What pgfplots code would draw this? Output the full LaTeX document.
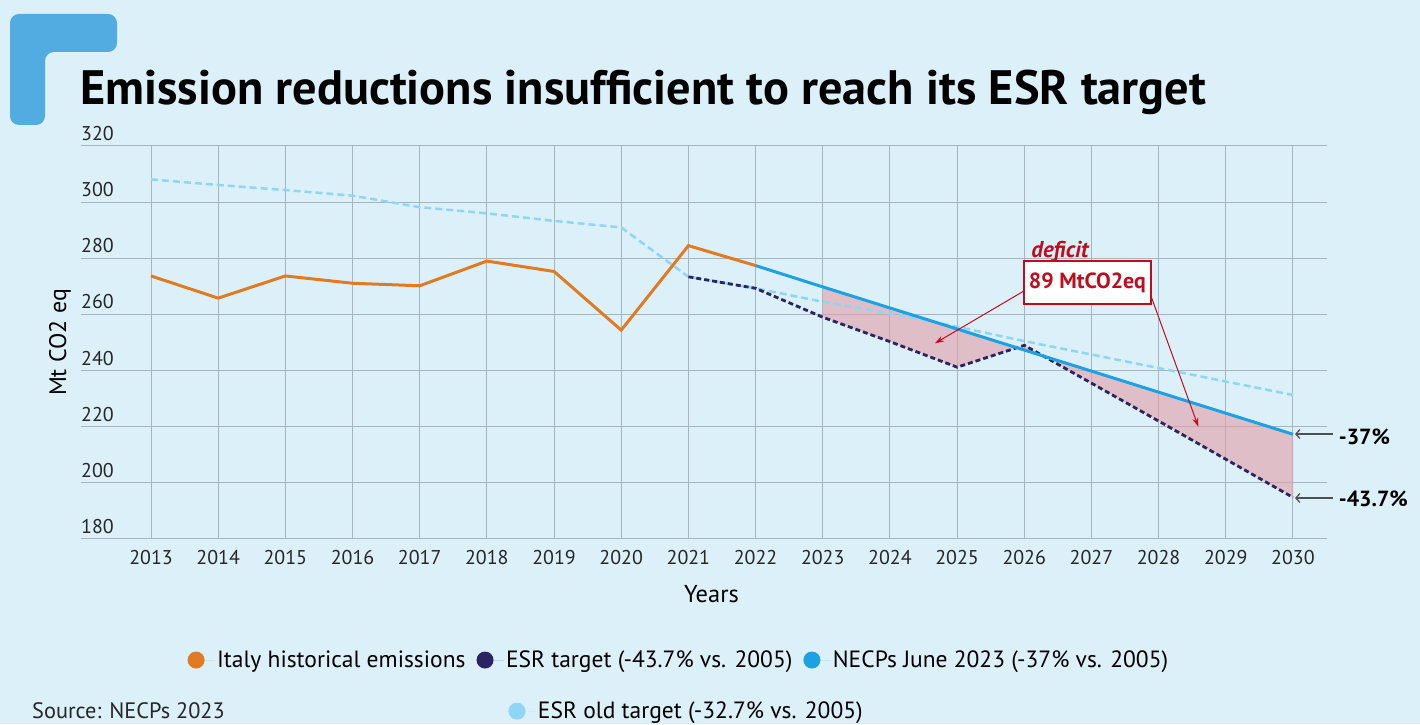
\documentclass[border=0pt]{standalone}
\usepackage{fontspec}
\setmainfont{PT Sans}
\usepackage{pgfplots}
\pgfplotsset{compat=1.18}
\usetikzlibrary{arrows.meta}
\definecolor{bg}{HTML}{DCF0F9}
\definecolor{gridc}{HTML}{A9B5BD}
\definecolor{orangeL}{HTML}{E07B22}
\definecolor{navy}{HTML}{2A2462}
\definecolor{necp}{HTML}{1CA2E2}
\definecolor{oldt}{HTML}{8ED5F6}
\definecolor{pinkf}{HTML}{E39DA6}
\definecolor{redA}{HTML}{C00D1E}
\definecolor{logo}{HTML}{52ACE1}
\definecolor{arrg}{HTML}{505050}

\begin{document}
\begin{tikzpicture}[x=1bp,y=1bp]
\fill[bg] (0,0) rectangle (1420,724);
\useasboundingbox (0,0) rectangle (1420,724);
\fill[logo, rounded corners=9bp] (10,710) -- (117,710) -- (117,672) -- (45,672) -- (45,599) -- (10,599) -- cycle;
\node[anchor=base west, inner sep=0, font=\fontsize{48.5}{58}\selectfont\bfseries] at (80,619) {Emission reductions insufficient to reach its ESR target};
\node[anchor=base west, inner sep=0, font=\fontsize{22.4}{26}\selectfont, text=black!85] at (32,6) {Source: NECPs 2023};

\begin{axis}[
 at={(81bp,185bp)}, anchor=south west, scale only axis, width=1246bp, height=393bp,
 xmin=2011.958, xmax=2030.506, ymin=180, ymax=320,
 axis line style={draw=none}, tick style={draw=none},
 grid=major, major grid style={gridc, line width=1bp},
 xtick={2013,...,2030}, ytick={180,200,...,320},
 /pgf/number format/assume math mode=true,
 tick label style={font=\fontsize{20}{24}\selectfont, text=black!85},
 xticklabel style={/pgf/number format/1000 sep={}, inner sep=0pt, anchor=north, yshift=-11bp},
 yticklabel style={anchor=south west, inner sep=0pt, yshift=5bp},
 clip=false,
 xlabel={Years}, ylabel={Mt CO2 eq},
 xlabel style={font=\fontsize{24.5}{28}\selectfont, at={(axis description cs:0.506,0)}, anchor=center, yshift=-55bp},
 ylabel style={font=\fontsize{24}{28}\selectfont, at={(axis description cs:-0.0169,0.5)}, anchor=center},
 legend columns=3,
 legend cell align=left,
 legend style={draw=none, fill=none, font=\fontsize{23.6}{28}\selectfont,
   at={(axis description cs:0.083,-0.308)}, anchor=west,
   /tikz/every even column/.append style={column sep=9bp}},
 legend image code/.code={\fill (0bp,0bp) circle (8.5bp); \path (-8.5bp,0bp) -- (19bp,0bp);},
]
% deficit area
\addplot[draw=none, fill=pinkf, fill opacity=0.6, forget plot] coordinates {
 (2023,269.8) (2024,262.3) (2025,254.8) (2026,247.3) (2027,239.8) (2028,232.3) (2029,224.8) (2030,217.3)
 (2030,194.8) (2029,208.4) (2028,222.0) (2027,235.5) (2026,249.0) (2025,241.2) (2024,250.3) (2023,259.0)} -- cycle;
% ESR old target
\addplot[oldt, line width=2.5bp, dash pattern=on 7bp off 4bp, forget plot] coordinates {
 (2013,308.1) (2014,306.1) (2015,304.3) (2016,302.3) (2017,298.2) (2018,296.0) (2019,293.3) (2020,291.0)
 (2021,273.4) (2022,269.3) (2023,264.5) (2024,260.4) (2025,255.6) (2026,250.5) (2027,245.7) (2028,240.9)
 (2029,236.1) (2030,231.3)};
% ESR target
\addplot[navy, line width=2.8bp, dash pattern=on 5bp off 3bp, forget plot] coordinates {
 (2021,273.4) (2022,269.3) (2023,259.0) (2024,250.3) (2025,241.2) (2026,249.0) (2027,235.5) (2028,222.0)
 (2029,208.4) (2030,194.8)};
% NECPs
\addplot[necp, line width=3bp, forget plot] coordinates {
 (2022,277.4) (2023,269.8) (2024,262.3) (2025,254.8) (2026,247.3) (2027,239.8) (2028,232.3) (2029,224.8) (2030,217.3)};
% Italy historical
\addplot[orangeL, line width=3bp, forget plot] coordinates {
 (2013,273.7) (2014,265.8) (2015,273.7) (2016,271.1) (2017,270.2) (2018,279.0) (2019,275.3) (2020,254.4)
 (2021,284.5) (2022,277.4)};

\addlegendimage{fill=orangeL, draw=none}
\addlegendentry{Italy historical emissions}
\addlegendimage{fill=navy, draw=none}
\addlegendentry{ESR target (-43.7\% vs. 2005)}
\addlegendimage{fill=necp, draw=none}
\addlegendentry{NECPs June 2023 (-37\% vs. 2005)}

% annotations
\node[font=\fontsize{23}{27}\selectfont\bfseries\itshape, text=redA] at (axis cs:2026.53,282.2) {deficit};
\draw[redA, line width=1bp, -{Stealth[length=9bp,width=6bp]}] (axis cs:2025.99,268.3) -- (axis cs:2024.67,249.7);
\draw[redA, line width=1bp, -{Stealth[length=9bp,width=6bp]}] (axis cs:2027.88,266.9) -- (axis cs:2028.59,220.0);
\node[draw=redA, line width=1.6bp, fill=white, text=redA, font=\fontsize{22}{26}\selectfont\bfseries,
  minimum width=127bp, minimum height=43bp, inner sep=0pt] at (axis cs:2026.94,271.37) {89 MtCO2eq};
\draw[arrg, line width=1.3bp, {Straight Barb[length=4bp,width=9bp]}-] (axis cs:2030.03,217.4) -- (axis cs:2030.59,217.4);
\draw[arrg, line width=1.3bp, {Straight Barb[length=4bp,width=9bp]}-] (axis cs:2030.03,194.6) -- (axis cs:2030.59,194.6);
\node[anchor=west, inner sep=0pt, font=\fontsize{22}{26}\selectfont\bfseries] at (axis cs:2030.68,216.4) {-37\%};
\node[anchor=west, inner sep=0pt, font=\fontsize{22}{26}\selectfont\bfseries] at (axis cs:2030.68,194.2) {-43.7\%};
\end{axis}

\begin{axis}[
 at={(81bp,185bp)}, anchor=south west, scale only axis, width=1246bp, height=393bp,
 xmin=0, xmax=1, ymin=0, ymax=1, hide axis,
 legend cell align=left,
 legend style={draw=none, fill=none, font=\fontsize{23.6}{28}\selectfont,
   at={(axis description cs:0.3405,-0.438)}, anchor=west},
 legend image code/.code={\fill (0bp,0bp) circle (8.5bp); \path (-8.5bp,0bp) -- (19bp,0bp);},
]
\addlegendimage{fill=oldt, draw=none}
\addlegendentry{ESR old target (-32.7\% vs. 2005)}
\end{axis}
\end{tikzpicture}
\end{document}
